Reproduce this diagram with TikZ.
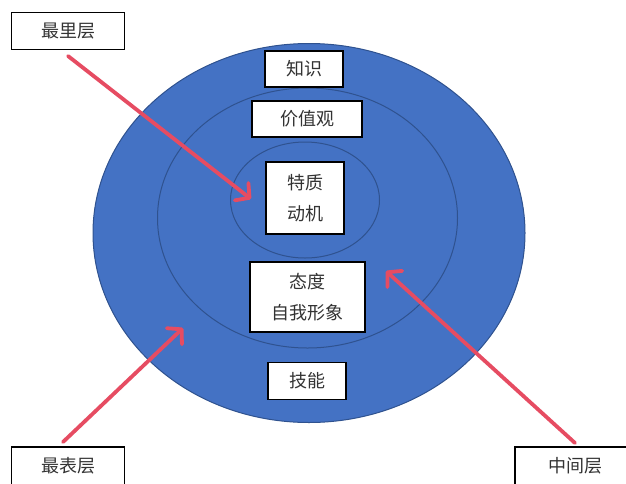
\documentclass[tikz,border=0pt]{standalone}
\usepackage{fontspec}
\newfontfamily\cjk{Noto Sans CJK SC}
\usetikzlibrary{arrows.meta,shapes.geometric}
\definecolor{ringfill}{HTML}{4472C4}
\definecolor{ringline}{HTML}{2F528F}
\definecolor{arrowred}{HTML}{E64C62}
\definecolor{txt}{HTML}{333333}
\tikzset{
  lbl/.style={draw=black, line width=1.5pt, fill=white, align=center, text=txt,
    font=\cjk\fontsize{18}{31}\selectfont, inner sep=0pt},
  ring/.style={ellipse, draw=ringline, line width=1pt, inner sep=0pt},
  ptr/.style={draw=arrowred, line width=3.8pt, line cap=round,
    -{Straight Barb[length=10pt,width=22pt,line width=3.8pt,round]}}
}
\begin{document}
\begin{tikzpicture}[x=1pt,y=-1pt]
\useasboundingbox (0,0) rectangle (626,483);
\node[ring, fill=ringfill, minimum width=432pt, minimum height=379pt] (outer) at (309,233) {};
\node[ring, minimum width=300pt, minimum height=260pt] (middle) at (307.5,218) {};
\node[ring, minimum width=149pt, minimum height=116pt] (inner) at (305,200) {};
\node[lbl, minimum width=78pt, minimum height=36pt] (zs) at (304,69) {知识};
\node[lbl, minimum width=110pt, minimum height=36pt] (jzg) at (307,119) {价值观};
\node[lbl, minimum width=78pt, minimum height=72pt] (tz) at (305,198) {特质\\动机};
\node[lbl, minimum width=115pt, minimum height=70pt] (td) at (307.5,297) {态度\\自我形象};
\node[lbl, minimum width=78pt, minimum height=37pt] (jn) at (307,381) {技能};
\node[lbl, minimum width=113pt, minimum height=37pt] (zll) at (68,31) {最里层};
\node[lbl, minimum width=113pt, minimum height=38pt] (zbl) at (68,466) {最表层};
\node[lbl, minimum width=120pt, minimum height=38pt] (zjl) at (575,466) {中间层};
\coordinate (t1) at (251,199);
\coordinate (t2) at (183,328);
\coordinate (t3) at (386,271);
\draw[ptr] (68,56) -- (t1);
\draw[ptr] (63,442) -- (t2);
\draw[ptr] (575,443) -- (t3);
\end{tikzpicture}
\end{document}
